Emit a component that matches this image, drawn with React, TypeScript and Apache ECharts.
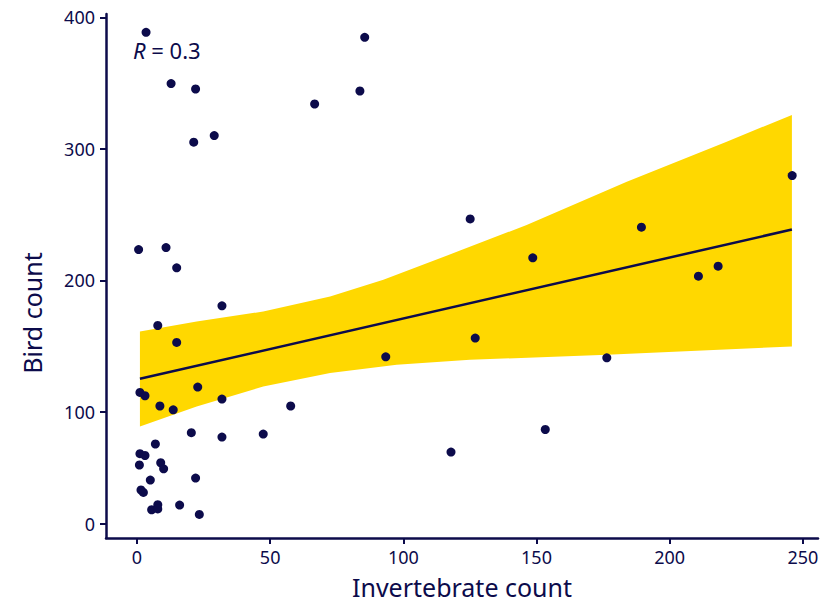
import React, { useEffect, useRef } from "react";
import * as echarts from "echarts";

// Scatter data: invertebrate count (x) vs bird count (y)
const invertebrates = [
  3.4, 12.8, 22.0, 21.3, 29.0, 66.7, 83.7, 85.5, 0.6, 10.9,
  14.9, 31.9, 7.8, 14.9, 93.4, 125.1, 148.6, 189.4, 210.8, 218.2,
  246.0, 127.0, 176.4, 117.9, 153.3, 1.1, 3.0, 22.8, 31.9, 8.6,
  13.6, 57.7, 20.4, 31.9, 47.4, 6.9, 1.1, 3.0, 0.9, 8.9,
  10.0, 5.0, 22.0, 1.5, 2.4, 5.5, 7.8, 7.8, 16.0, 23.4,
];
const birds = [
  388.6, 349.6, 345.5, 305.1, 310.1, 334.1, 344.0, 384.8, 223.5, 225.0,
  209.6, 180.7, 165.8, 152.9, 142.0, 246.8, 217.2, 240.5, 203.3, 210.9,
  279.7, 156.2, 141.2, 64.2, 84.4, 114.9, 112.4, 119.0, 109.9, 104.6,
  101.7, 104.6, 81.5, 77.6, 80.3, 71.4, 62.7, 61.1, 52.6, 54.6,
  49.2, 39.1, 40.9, 30.2, 28.0, 12.5, 17.0, 13.2, 16.7, 8.3,
];

// Regression line end points
const fitX = [1.1, 245.9];
const fitY = [125.3, 238.7];

// Confidence band edges
const bandUpperX = [1.1, 22.4, 47.4, 72.5, 92.5, 121.3, 146.3, 183.9, 221.4, 245.9];
const bandUpperY = [161.2, 168.8, 176.4, 187.8, 200.5, 222.7, 242.2, 275.1, 305.5, 325.8];
const bandLowerX = [1.1, 22.4, 47.4, 72.5, 97.5, 125.0, 176.4, 245.9];
const bandLowerY = [87.1, 104.3, 119.4, 129.6, 135.9, 139.7, 143.5, 149.8];

// Axis ticks
const xTicks = [0, 50, 100, 150, 200, 250];
const yTicks = [0, 100, 200, 300, 400];

const rLabel = "0.3";

const NAVY = "#0c0b4b";
const GOLD = "#FFD800";
const FONT = "'Noto Sans', 'DejaVu Sans', sans-serif";

// The reference's y axis is compressed between 0 and 100
const SQUEEZE = 0.8484;
const fy = (y: number) => (y >= 100 ? y : 100 - (100 - y) * SQUEEZE);

export default function App() {
  const ref = useRef<HTMLDivElement>(null);

  useEffect(() => {
    document.body.style.margin = "0";
    if (!ref.current) return;
    const chart = echarts.init(ref.current, undefined, { renderer: "svg" });

    const yTickPos = yTicks.map(fy);
    const yLabelFor = (v: number) => {
      let best = 0;
      let bd = Infinity;
      yTickPos.forEach((p, i) => {
        const d = Math.abs(p - v);
        if (d < bd) {
          bd = d;
          best = i;
        }
      });
      return String(yTicks[best]);
    };

    const option: any = {
      animation: false,
      backgroundColor: "#ffffff",
      grid: {
        left: 106,
        right: 7,
        top: 14,
        bottom: 64,
        containLabel: false,
        outerBoundsMode: "none",
      },
      xAxis: {
        type: "value",
        min: -11.64,
        max: 255.7,
        splitLine: { show: false },
        axisLine: { show: true, onZero: false, lineStyle: { color: NAVY, width: 2.5 } },
        axisTick: {
          show: true,
          length: 6,
          customValues: xTicks,
          lineStyle: { color: NAVY, width: 2 },
        },
        axisLabel: {
          customValues: xTicks,
          margin: 10,
          color: NAVY,
          fontSize: 18,
          fontFamily: FONT,
        },
        name: "Invertebrate count",
        nameLocation: "middle",
        nameGap: 36,
        nameTextStyle: { color: NAVY, fontSize: 25, fontFamily: FONT },
      },
      yAxis: {
        type: "value",
        min: 4.3,
        max: 402.5,
        splitLine: { show: false },
        axisLine: { show: true, onZero: false, lineStyle: { color: NAVY, width: 2.5 } },
        axisTick: {
          show: true,
          length: 6,
          customValues: yTickPos,
          lineStyle: { color: NAVY, width: 2 },
        },
        axisLabel: {
          customValues: yTickPos,
          margin: 11,
          color: NAVY,
          fontSize: 18,
          fontFamily: FONT,
          formatter: (v: number) => yLabelFor(v),
        },
      },
      graphic: [
        {
          type: "text",
          x: 32,
          y: 313,
          rotation: Math.PI / 2,
          style: {
            text: "Bird count",
            fill: NAVY,
            font: `25px ${FONT}`,
            align: "center",
            verticalAlign: "middle",
          },
        },
        {
          type: "text",
          x: 133,
          y: 50,
          style: {
            text: `{i|R} = ${rLabel}`,
            fill: NAVY,
            font: `22px ${FONT}`,
            align: "left",
            verticalAlign: "middle",
            rich: {
              i: { fontStyle: "italic", fontSize: 22, fontFamily: FONT, fill: NAVY },
            },
          },
        },
      ],
      series: [
        {
          type: "custom",
          silent: true,
          clip: true,
          z: 1,
          data: [[bandUpperX[0], fy(bandUpperY[0])]],
          renderItem: (params: any, api: any) => {
            const pts: number[][] = [];
            bandUpperX.forEach((x, i) => pts.push(api.coord([x, fy(bandUpperY[i])])));
            for (let i = bandLowerX.length - 1; i >= 0; i--) {
              pts.push(api.coord([bandLowerX[i], fy(bandLowerY[i])]));
            }
            return {
              type: "polygon",
              shape: { points: pts },
              style: { fill: GOLD, stroke: "none" },
            };
          },
        },
        {
          type: "line",
          z: 2,
          data: fitX.map((x, i) => [x, fy(fitY[i])]),
          showSymbol: false,
          symbol: "none",
          lineStyle: { color: NAVY, width: 2.5 },
        },
        {
          type: "scatter",
          z: 3,
          symbol: "circle",
          symbolSize: 9,
          data: invertebrates.map((x, i) => [x, fy(birds[i])]),
          itemStyle: { color: NAVY, opacity: 1 },
        },
      ],
    };

    chart.setOption(option);
    return () => chart.dispose();
  }, []);

  return <div ref={ref} style={{ width: 825, height: 602 }} />;
}
